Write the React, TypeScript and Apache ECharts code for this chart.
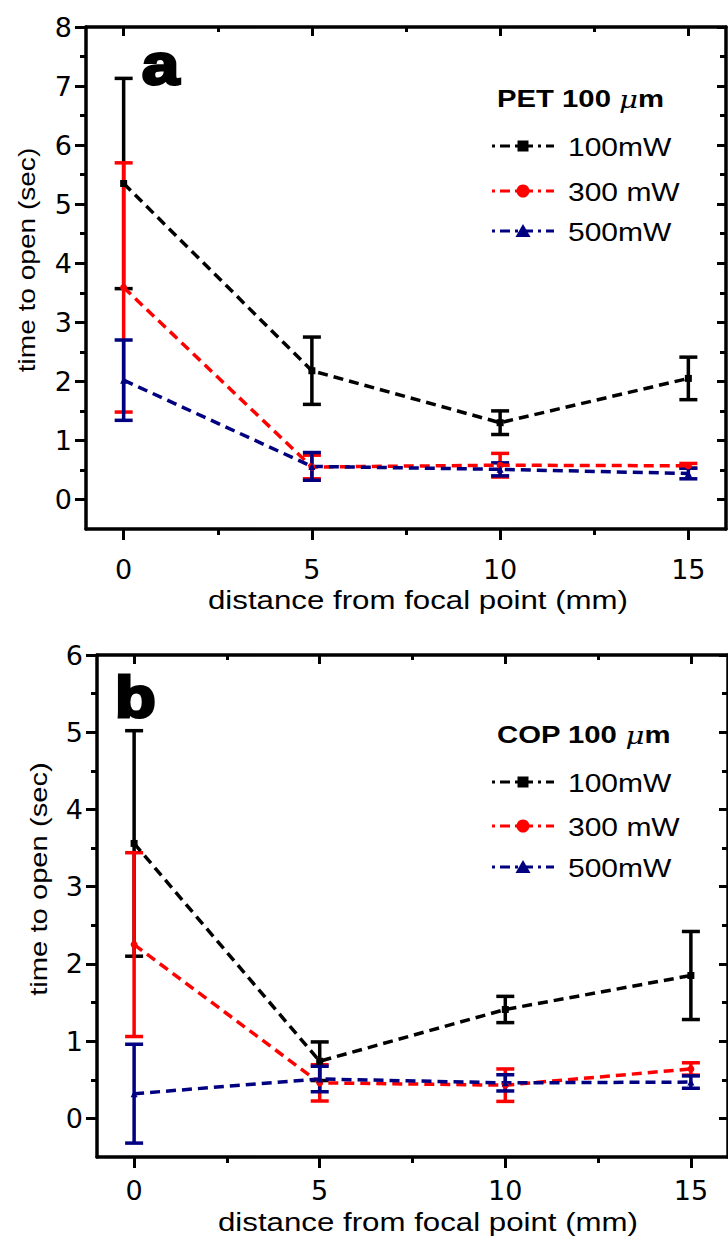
import React, { useEffect, useRef } from "react";
import * as echarts from "echarts";

// ---------- data ----------
const distances = [0, 5, 10, 15];
const xMajorTicks = [0, 5, 10, 15];
const xMinorTicks = [2.5, 7.5, 12.5];
const petYTicks = [0, 1, 2, 3, 4, 5, 6, 7, 8];
const petYMinor = [0.5, 1.5, 2.5, 3.5, 4.5, 5.5, 6.5, 7.5];
const copYTicks = [0, 1, 2, 3, 4, 5, 6];
const copYMinor = [0.5, 1.5, 2.5, 3.5, 4.5, 5.5];
const powerLabels = ["100mW", "300 mW", "500mW"];

// panel a: PET 100 um
const pet100Mean = [5.35, 2.18, 1.3, 2.05];
const pet100Err = [1.78, 0.57, 0.2, 0.36];
const pet300Mean = [3.59, 0.55, 0.58, 0.57];
const pet300Err = [2.11, 0.2, 0.2, 0.04];
const pet500Mean = [2.02, 0.56, 0.51, 0.44];
const pet500Err = [0.68, 0.235, 0.11, 0.09];

// panel b: COP 100 um
const cop100Mean = [3.56, 0.74, 1.41, 1.85];
const cop100Err = [1.46, 0.25, 0.17, 0.57];
const cop300Mean = [2.25, 0.46, 0.43, 0.64];
const cop300Err = [1.19, 0.235, 0.21, 0.08];
const cop500Mean = [0.32, 0.51, 0.46, 0.47];
const cop500Err = [0.64, 0.165, 0.105, 0.08];

// ---------- styles ----------
const FONT = '"Liberation Sans", Arial, sans-serif';
const TICK_FONT = "DejaVu Sans";
const TICK_SIZE = 27;
const COLORS = ["#000000", "#ff0000", "#000080"];
const SYMBOLS = ["rect", "circle", "triangle"];
const AXIS_W = 3.5;

function xAxes(gridIndex: number, labelMargin: number) {
  const line = { show: true, onZero: false, lineStyle: { color: "#000", width: AXIS_W } };
  const tickStyle = { color: "#000", width: 3 };
  const base = { type: "value", gridIndex, min: -1, max: 16, splitLine: { show: false } };
  return [
    {
      ...base,
      position: "bottom",
      axisLine: line,
      axisTick: { show: true, customValues: xMajorTicks, length: 11, inside: false, lineStyle: tickStyle },
      axisLabel: {
        show: true,
        customValues: xMajorTicks,
        margin: labelMargin,
        color: "#000",
        fontSize: TICK_SIZE,
        fontFamily: TICK_FONT,
      },
    },
    {
      ...base,
      position: "bottom",
      axisLine: { show: false, onZero: false },
      axisTick: { show: true, customValues: xMinorTicks, length: 6, inside: false, lineStyle: tickStyle },
      axisLabel: { show: false },
    },
    {
      ...base,
      position: "top",
      axisLine: line,
      axisTick: { show: true, customValues: xMajorTicks, length: 9, inside: true, lineStyle: tickStyle },
      axisLabel: { show: false },
    },
    {
      ...base,
      position: "top",
      axisLine: { show: false, onZero: false },
      axisTick: { show: true, customValues: xMinorTicks, length: 5, inside: true, lineStyle: tickStyle },
      axisLabel: { show: false },
    },
  ];
}

function yAxes(gridIndex: number, max: number, major: number[], minor: number[]) {
  const line = { show: true, onZero: false, lineStyle: { color: "#000", width: AXIS_W } };
  const tickStyle = { color: "#000", width: 3 };
  const base = { type: "value", gridIndex, min: -0.5, max, splitLine: { show: false } };
  return [
    {
      ...base,
      position: "left",
      axisLine: line,
      axisTick: { show: true, customValues: major, length: 11, inside: false, lineStyle: tickStyle },
      axisLabel: {
        show: true,
        customValues: major,
        margin: 14,
        color: "#000",
        fontSize: TICK_SIZE,
        fontFamily: TICK_FONT,
      },
    },
    {
      ...base,
      position: "left",
      axisLine: { show: false, onZero: false },
      axisTick: { show: true, customValues: minor, length: 6, inside: false, lineStyle: tickStyle },
      axisLabel: { show: false },
    },
    {
      ...base,
      position: "right",
      axisLine: line,
      axisTick: { show: true, customValues: major, length: 9, inside: true, lineStyle: tickStyle },
      axisLabel: { show: false },
    },
    {
      ...base,
      position: "right",
      axisLine: { show: false, onZero: false },
      axisTick: { show: true, customValues: minor, length: 6, inside: true, lineStyle: tickStyle },
      axisLabel: { show: false },
    },
  ];
}

function errSeries(axisIndex: number, means: number[], errs: number[], color: string) {
  return {
    type: "custom",
    xAxisIndex: axisIndex,
    yAxisIndex: axisIndex,
    data: distances.map((d, i) => [d, means[i] - errs[i], means[i] + errs[i]]),
    encode: { x: 0, y: [1, 2] },
    renderItem: (params: any, api: any) => {
      const x = api.value(0);
      const lo = api.coord([x, api.value(1)]);
      const hi = api.coord([x, api.value(2)]);
      const w = 9;
      const style = { stroke: color, lineWidth: 3.5, fill: "none" };
      return {
        type: "group",
        children: [
          { type: "line", shape: { x1: lo[0], y1: lo[1], x2: hi[0], y2: hi[1] }, style },
          { type: "line", shape: { x1: lo[0] - w, y1: lo[1], x2: lo[0] + w, y2: lo[1] }, style },
          { type: "line", shape: { x1: hi[0] - w, y1: hi[1], x2: hi[0] + w, y2: hi[1] }, style },
        ],
      };
    },
  };
}

function lineSeries(axisIndex: number, name: string, means: number[], idx: number) {
  return {
    type: "line",
    name,
    xAxisIndex: axisIndex,
    yAxisIndex: axisIndex,
    data: distances.map((d, i) => [d, means[i]]),
    symbol: SYMBOLS[idx],
    symbolSize: 7,
    itemStyle: { color: COLORS[idx] },
    lineStyle: { color: COLORS[idx], width: 3.5, type: [10, 6] },
  };
}

function legendGraphics(titleMain: string, titleX: number, titleY: number, rowYs: number[]) {
  const els: any[] = [];
  els.push({
    type: "text",
    x: titleX,
    y: titleY,
    scaleX: 1.22,
    z: 100,
    style: {
      text: "{b|" + titleMain + " }{mu|μ}{b|m}",
      align: "left",
      verticalAlign: "middle",
      rich: {
        b: { font: "bold 24px " + FONT, fill: "#000" },
        mu: { font: 'italic 24px "DejaVu Serif", serif', fill: "#000" },
      },
    },
  });
  rowYs.forEach((y, i) => {
    const c = COLORS[i];
    els.push({
      type: "line",
      z: 100,
      shape: { x1: 492, y1: y, x2: 554, y2: y },
      style: { stroke: c, lineWidth: 3, lineDash: [3, 5, 10, 5] },
    });
    if (i === 0) {
      els.push({ type: "rect", z: 101, shape: { x: 517.5, y: y - 5.5, width: 11, height: 11 }, style: { fill: c } });
    } else if (i === 1) {
      els.push({ type: "circle", z: 101, shape: { cx: 523, cy: y, r: 6.5 }, style: { fill: c } });
    } else {
      els.push({
        type: "polygon",
        z: 101,
        shape: { points: [[523, y - 7], [530.5, y + 6], [515.5, y + 6]] },
        style: { fill: c },
      });
    }
    els.push({
      type: "text",
      x: 568,
      y: y + 1,
      scaleX: 1.2,
      z: 100,
      style: { text: powerLabels[i], font: "25px " + FONT, fill: "#000", align: "left", verticalAlign: "middle" },
    });
  });
  return els;
}

function titleText(text: string, x: number, y: number, scaleX: number, rotate = false) {
  return {
    type: "text",
    x,
    y,
    rotation: rotate ? Math.PI / 2 : 0,
    scaleX,
    z: 100,
    style: { text, font: (rotate ? "23px " : "25px ") + FONT, fill: "#000", align: "center", verticalAlign: "middle" },
  };
}

export default function App() {
  const ref = useRef<HTMLDivElement>(null);
  useEffect(() => {
    if (!ref.current) return;
    const chart = echarts.init(ref.current, undefined, { renderer: "svg" });
    const option: any = {
      animation: false,
      backgroundColor: "#fff",
      grid: [
        { left: 86, top: 27, width: 640, height: 502 },
        { left: 97, top: 655, width: 637.5, height: 502 },
      ],
      xAxis: [...xAxes(0, 27), ...xAxes(1, 20)],
      yAxis: [...yAxes(0, 8, petYTicks, petYMinor), ...yAxes(1, 6, copYTicks, copYMinor)],
      series: [
        errSeries(0, pet100Mean, pet100Err, COLORS[0]),
        lineSeries(0, "PET " + powerLabels[0], pet100Mean, 0),
        errSeries(0, pet300Mean, pet300Err, COLORS[1]),
        lineSeries(0, "PET " + powerLabels[1], pet300Mean, 1),
        errSeries(0, pet500Mean, pet500Err, COLORS[2]),
        lineSeries(0, "PET " + powerLabels[2], pet500Mean, 2),
        errSeries(4, cop100Mean, cop100Err, COLORS[0]),
        lineSeries(4, "COP " + powerLabels[0], cop100Mean, 0),
        errSeries(4, cop300Mean, cop300Err, COLORS[1]),
        lineSeries(4, "COP " + powerLabels[1], cop300Mean, 1),
        errSeries(4, cop500Mean, cop500Err, COLORS[2]),
        lineSeries(4, "COP " + powerLabels[2], cop500Mean, 2),
      ],
      graphic: [
        {
          type: "text",
          x: 142,
          y: 64,
          scaleX: 1.15,
          z: 100,
          style: { text: "a", font: "bold 58px " + FONT, fill: "#000", stroke: "#000", lineWidth: 3, align: "left", verticalAlign: "middle" },
        },
        {
          type: "text",
          x: 115,
          y: 697,
          scaleX: 1.15,
          z: 100,
          style: { text: "b", font: "bold 58px " + FONT, fill: "#000", stroke: "#000", lineWidth: 3, align: "left", verticalAlign: "middle" },
        },
        ...legendGraphics("PET 100", 497, 99, [146, 191, 231]),
        ...legendGraphics("COP 100", 497, 735, [782, 826, 867]),
        titleText("distance from focal point (mm)", 418, 600, 1.25),
        titleText("distance from focal point (mm)", 428, 1222, 1.25),
        titleText("time to open (sec)", 27, 260, 1.22, true),
        titleText("time to open (sec)", 39, 879, 1.27, true),
      ],
    };
    chart.setOption(option);
    return () => chart.dispose();
  }, []);
  return (
    <div
      ref={ref}
      style={{ position: "absolute", left: 0, top: 0, width: 728, height: 1240, background: "#fff" }}
    />
  );
}
